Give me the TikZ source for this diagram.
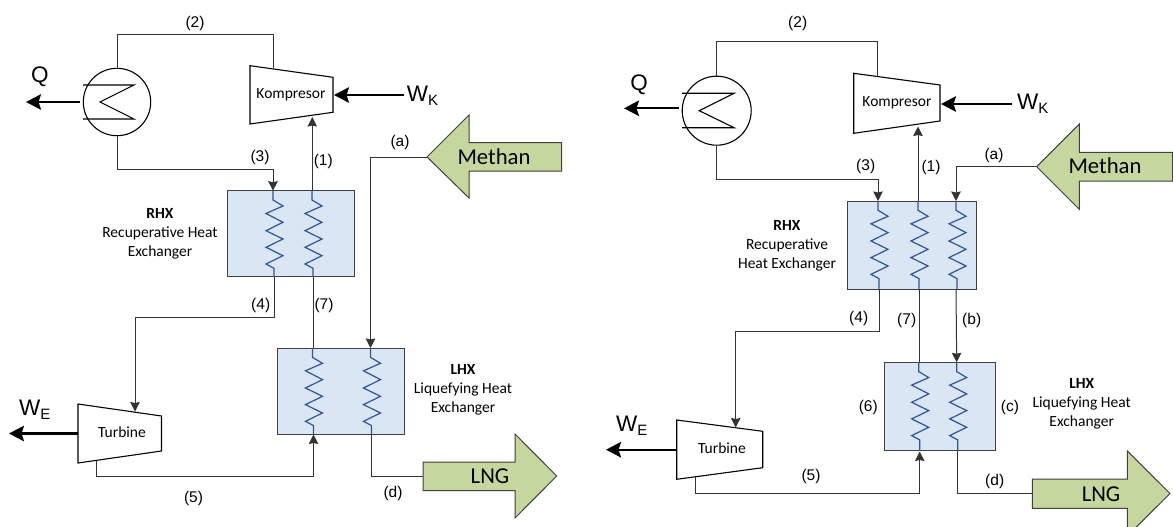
\documentclass[tikz,border=0pt]{standalone}
\usepackage{fontspec}
\setmainfont{Carlito}
\newfontfamily\arialf{Liberation Sans}
\usetikzlibrary{arrows.meta}
\definecolor{boxfill}{HTML}{DAE6F4}
\definecolor{greenfill}{HTML}{C5D69E}
\definecolor{coilblue}{HTML}{2F5597}
\definecolor{pipe}{HTML}{333333}
\tikzset{
  pipeline/.style={draw=pipe,line width=1pt},
  flow/.style={pipeline,-{Stealth[length=9.5pt,width=9.5pt,inset=1pt]}},
  work/.style={draw=black,line width=2.2pt,-{Stealth[length=15pt,width=15.5pt,inset=2.5pt]}},
  coilline/.style={draw=coilblue,line width=1.2pt},
  hxbox/.style={draw=black!75,line width=1pt,fill=boxfill,inner sep=0pt,outer sep=0pt},
  cooler/.style={circle,draw=black,line width=1.1pt,inner sep=0pt,outer sep=0pt},
  machine/.style={draw=black,line width=1.1pt,fill=white},
  blockarrow/.style={draw=black!75,line width=1pt,fill=greenfill},
  num/.style={inner sep=0pt,font=\arialf\fontsize{15.5}{18}\selectfont},
  big/.style={inner sep=0pt,font=\fontsize{22.7}{26}\selectfont},
  mach/.style={inner sep=0pt,font=\fontsize{15.5}{18}\selectfont},
  desc/.style={inner sep=0pt,align=center,font=\fontsize{15.5}{19}\selectfont},
  sym/.style={inner sep=0pt,font=\arialf\fontsize{22.5}{26}\selectfont},
}
\newcommand\coilz[3]{\draw[coilline] (#1,#2) -- ++(0,9.3) -- ++(10,6) -- ++(-17,7.5) -- ++(17,8.8) -- ++(-17,8.4) -- ++(17,8.3) -- ++(-17,8.3) -- ++(17,8.4) -- ++(-17,8.3) -- ++(8,4.3) -- (#1+1,#3);}
\newcommand\subs[1]{\raisebox{-3.5pt}{\fontsize{15}{17}\selectfont #1}}
\begin{document}
\begin{tikzpicture}[x=1pt,y=-1pt]
\useasboundingbox (0,0) rectangle (1173,527);
\clip (0,0) rectangle (1173,527);
\fill[white] (0,0) rectangle (1173,527);

%%% LEFT
\node[hxbox,minimum width=127.3pt,minimum height=86.3pt] (rhxL) at (291.3,233.8) {};
\node[hxbox,minimum width=127.5pt,minimum height=86pt] (lhxL) at (341.2,391) {};
\coilz{273}{190.7}{277}
\coilz{312}{190.7}{277}
\coilz{312.5}{348}{434}
\coilz{370.5}{348}{434}
\node[cooler,minimum size=67.4pt] (coolL) at (117,102) {};
\draw[line width=1.1pt] (83,85) -- (134,85) -- (100,102) -- (134,119) -- (83,119);
\draw[machine] (250,65.7) -- (333,77.3) -- (333,112.3) -- (250,124) -- cycle;
\draw[machine] (78,404) -- (161.5,416) -- (161.5,451) -- (78,463) -- cycle;
\coordinate (kL1) at (273,68.5);
\coordinate (kL2) at (312.3,117);
\coordinate (kLr) at (334,95);
\coordinate (wkL) at (404,95);
\coordinate (tL1) at (135,411.5);
\coordinate (tL2) at (96.5,460.5);
\coordinate (tLl) at (78,433.5);
\coordinate (weL) at (9,433.5);
\coordinate (qL) at (26,102);
\coordinate (r1L) at (273,190.7);
\coordinate (r2L) at (312.3,190.7);
\coordinate (r3L) at (274,277);
\coordinate (r4L) at (313,277);
\coordinate (l1L) at (313,348);
\coordinate (l2L) at (370.5,348);
\coordinate (l3L) at (313.5,434.5);
\coordinate (l4L) at (371,434);
\draw[blockarrow] (427,157) -- (469,115) -- (469,142.7) -- (561.7,142.7) -- (561.7,171) -- (469,171) -- (469,198) -- cycle;
\coordinate (mtL) at (427,157);
\draw[blockarrow] (423,462) -- (515,462) -- (515,434) -- (556.7,476) -- (515,518) -- (515,490.7) -- (423,490.7) -- cycle;
\coordinate (lngL) at (423,476);
\draw[pipeline] (coolL.north) -- (117,35) -| (kL1);
\draw[flow] (coolL.south) |- (r1L |- 0,169) -- (r1L);
\draw[flow] (r2L) -- (kL2);
\draw[pipeline] (r4L) -- (l1L);
\draw[flow] (r3L) -- (274,317) -| (tL1);
\draw[flow] (tL2) -- (96.5,476.7) -| (l3L);
\draw[flow] (mtL) -| (l2L);
\draw[pipeline] (l4L) |- (lngL);
\draw[work] (coolL.west) ++(-3,0) -- (qL);
\draw[work] (wkL) -- (kLr);
\draw[work] (tLl) -- (weL);

\node[num] (nL2) at (195,23) {(2)};
\node[num] (nL3) at (260,157.3) {(3)};
\node[num] (nL1) at (323.3,161.7) {(1)};
\node[num] (nLa) at (400,142.3) {(a)};
\node[num] (nL4) at (260.7,305) {(4)};
\node[num] (nL7) at (324,305) {(7)};
\node[num] (nL5) at (193.5,498) {(5)};
\node[num] (nLd) at (393,493) {(d)};
\node[sym,anchor=base] (qtL) at (40,83) {Q};
\node[sym,anchor=base west] (wkLt) at (406.7,101.7) {W\subs{K}};
\node[sym,anchor=base west] (weLt) at (19,415.7) {W\subs{E}};
\node[mach] (kompL) at (291,94.5) {Kompresor};
\node[mach] (turbL) at (122,432) {Turbine};
\node[big] (methL) at (494,157) {Methan};
\node[big] (lngtL) at (490,476.5) {LNG};
\node[desc] (rhxtL) at (160,234) {\textbf{RHX}\\Recuperative Heat\\Exchanger};
\node[desc] (lhxtL) at (463,389.5) {\textbf{LHX}\\Liquefying Heat\\Exchanger};

%%% RIGHT
\node[hxbox,minimum width=128.3pt,minimum height=88.3pt] (rhxR) at (911.9,245.2) {};
\node[hxbox,minimum width=111pt,minimum height=88.4pt] (lhxR) at (939.8,406.5) {};
\coilz{878}{201}{289.3}
\coilz{918}{201}{289.3}
\coilz{956}{201}{289.3}
\coilz{918.7}{362.3}{450.7}
\coilz{956.7}{362.3}{450.7}
\node[cooler,minimum size=69pt] (coolR) at (716.7,110.7) {};
\draw[line width=1.1pt] (682,93.3) -- (734,93.3) -- (699.3,110.7) -- (734,127.7) -- (682,127.7);
\draw[machine] (853.7,73.3) -- (940,85) -- (940,121) -- (853.7,133.3) -- cycle;
\draw[machine] (676.7,420) -- (762.7,431.3) -- (762.7,467.7) -- (676.7,479.3) -- cycle;
\coordinate (kR1) at (877.7,76.5);
\coordinate (kR2) at (918,126.5);
\coordinate (kRr) at (941,104);
\coordinate (wkR) at (1011.7,104);
\coordinate (tR1) at (735.7,427.5);
\coordinate (tR2) at (695.7,477);
\coordinate (tRl) at (676.7,449.7);
\coordinate (weR) at (606,449.7);
\coordinate (qR) at (624,108.3);
\coordinate (r1R) at (878,201);
\coordinate (r2R) at (918,201);
\coordinate (r3R) at (956,201);
\coordinate (r4R) at (879,289.3);
\coordinate (r5R) at (919,289.3);
\coordinate (r6R) at (957,289.3);
\coordinate (l1R) at (919,362.3);
\coordinate (l2R) at (956.7,362.3);
\coordinate (l3R) at (919.7,451.5);
\coordinate (l4R) at (957.7,450.7);
\draw[blockarrow] (1036.7,166.7) -- (1079.3,124) -- (1079.3,152.3) -- (1172.6,152.3) -- (1172.6,181) -- (1079.3,181) -- (1079.3,209.3) -- cycle;
\coordinate (mtR) at (1036.7,166.7);
\draw[blockarrow] (1032.3,479) -- (1127.3,479) -- (1127.3,451) -- (1170,493.5) -- (1127.3,536) -- (1127.3,508.3) -- (1032.3,508.3) -- cycle;
\coordinate (lngR) at (1032.3,493.5);
\draw[pipeline] (coolR.north) -- (716.7,42) -| (kR1);
\draw[flow] (coolR.south) |- (r1R |- 0,179.3) -- (r1R);
\draw[flow] (r2R) -- (kR2);
\draw[flow] (mtR) -| (r3R);
\draw[pipeline] (r5R) -- (l1R);
\draw[flow] (r6R) ++(-1,0) -- (l2R);
\draw[flow] (r4R) -- (879,331) -| (tR1);
\draw[flow] (tR2) -- (695.7,493.7) -| (l3R);
\draw[pipeline] (l4R) |- (lngR);
\draw[work] (679,108.3) -- (qR);
\draw[work] (wkR) -- (kRr);
\draw[work] (tRl) -- (weR);

\node[num] (nR2) at (797.7,23) {(2)};
\node[num] (nR3) at (865.7,166.7) {(3)};
\node[num] (nR1) at (931,167.3) {(1)};
\node[num] (nRa) at (994,155) {(a)};
\node[num] (nR4) at (858.7,318) {(4)};
\node[num] (nR7) at (906.7,320) {(7)};
\node[num] (nRb) at (971.7,320) {(b)};
\node[num] (nR6) at (868.3,407) {(6)};
\node[num] (nRc) at (1010,407) {(c)};
\node[num] (nR5) at (811,476.7) {(5)};
\node[num] (nRd) at (994.7,481) {(d)};
\node[sym,anchor=base] (qtR) at (639,90) {Q};
\node[sym,anchor=base west] (wkRt) at (1017,110) {W\subs{K}};
\node[sym,anchor=base west] (weRt) at (616,431.7) {W\subs{E}};
\node[mach] (kompR) at (897,103) {Kompresor};
\node[mach] (turbR) at (722,448) {Turbine};
\node[big] (methR) at (1105,166) {Methan};
\node[big] (lngtR) at (1101,494) {LNG};
\node[desc] (rhxtR) at (787,245.5) {\textbf{RHX}\\Recuperative\\Heat Exchanger};
\node[desc] (lhxtR) at (1081.7,404) {\textbf{LHX}\\Liquefying Heat\\Exchanger};
\end{tikzpicture}
\end{document}
